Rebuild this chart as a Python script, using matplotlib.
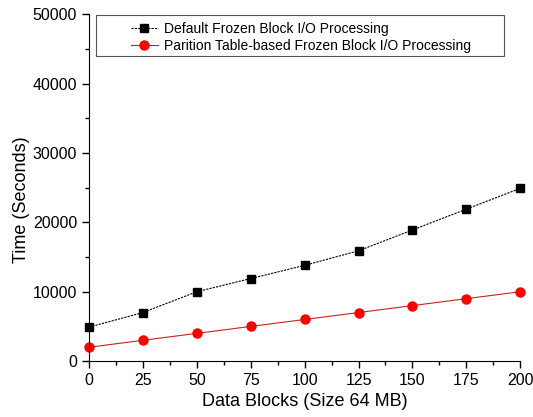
import numpy as np
import matplotlib.pyplot as plt
from matplotlib.patches import Rectangle
from matplotlib.ticker import MultipleLocator

plt.rcParams['font.family'] = ['Liberation Sans', 'DejaVu Sans']

blocks = [0, 25, 50, 75, 100, 125, 150, 175, 200]
default_time = [4900, 7000, 10000, 11900, 13800, 15900, 18900, 21900, 24900]
partition_time = [2000, 3000, 4000, 5000, 6000, 7000, 8000, 9000, 10000]

fig = plt.figure(figsize=(5.33, 4.17), dpi=100)
ax = fig.add_axes([0.167, 0.134, 0.809, 0.832])

ax.plot(blocks, default_time, color='black', lw=0.8, ls=(0, (2, 1)),
        marker='s', ms=5.5, label='Default Frozen Block I/O Processing', clip_on=False)
ax.plot(blocks, partition_time, color='#cc2222', lw=0.8,
        marker='o', mfc='red', mec='red', ms=6.5,
        label='Parition Table-based Frozen Block I/O Processing', clip_on=False)

ax.set_xlim(0, 200)
ax.set_ylim(0, 50000)
ax.xaxis.set_major_locator(MultipleLocator(25))
ax.xaxis.set_minor_locator(MultipleLocator(12.5))
ax.yaxis.set_major_locator(MultipleLocator(10000))
ax.yaxis.set_minor_locator(MultipleLocator(5000))
ax.tick_params(which='major', length=5, width=1, labelsize=11.5)
ax.tick_params(which='minor', length=3, width=1)
ax.spines['top'].set_visible(False)
ax.spines['right'].set_visible(False)

ax.set_xlabel('Data Blocks (Size 64 MB)', fontsize=13, labelpad=4)
ax.set_ylabel('Time (Seconds)', fontsize=13)
ax.yaxis.set_label_coords(-0.137, 0.464)

# legend frame drawn separately: it is much wider than the entries
ax.add_patch(Rectangle((0.016, 0.879), 0.947, 0.118, transform=ax.transAxes,
                       fill=True, facecolor='white', edgecolor='#555555',
                       lw=0.8, clip_on=False, zorder=4))
leg = ax.legend(loc='upper left', bbox_to_anchor=(0.085, 0.992), frameon=False,
                fontsize=10, borderaxespad=0.0, handlelength=2.0,
                handletextpad=0.4, borderpad=0.35, labelspacing=0.25)
leg.set_zorder(5)

fig.savefig('out.png', dpi=100)
